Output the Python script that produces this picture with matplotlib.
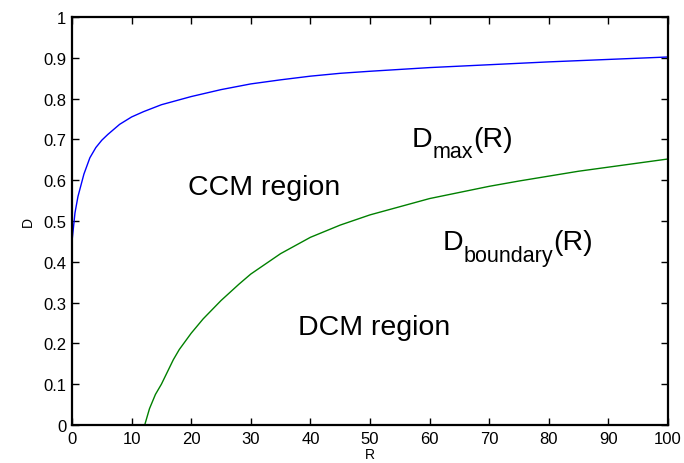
import numpy as np
import matplotlib
matplotlib.use('Agg')
import matplotlib.pyplot as plt

# %% Data

# D_max(R), upper (blue) curve
r_max = [0, 0.5, 1, 2, 3, 4, 5, 6, 8, 10, 12, 15, 18, 20, 25, 30, 35, 40,
         45, 50, 60, 70, 80, 90, 100]
d_max = [0.45, 0.52, 0.56, 0.615, 0.655, 0.68, 0.698, 0.712, 0.737, 0.755,
         0.768, 0.785, 0.797, 0.805, 0.822, 0.836, 0.846, 0.855, 0.862, 0.867,
         0.876, 0.883, 0.890, 0.896, 0.902]

# D_boundary(R), lower (green) curve
r_bnd = [12.2, 13, 14, 15, 16, 17, 18, 20, 22, 25, 28, 30, 35, 40, 45, 50,
         55, 60, 65, 70, 75, 80, 85, 90, 95, 100]
d_bnd = [0, 0.04, 0.075, 0.10, 0.13, 0.16, 0.185, 0.225, 0.26, 0.305, 0.345,
         0.37, 0.42, 0.46, 0.49, 0.515, 0.535, 0.555, 0.57, 0.585, 0.598, 0.61,
         0.622, 0.632, 0.642, 0.652]

x_ticks = np.arange(0, 101, 10)
y_ticks = np.arange(0, 1.01, 0.1)


# %% Helpers

def sub_label(ax, x, y, base, sub, rest, size=20.5, sub_size=15.5, drop=0.028):
    """Writes base_sub rest the MATLAB way: big subscript, dropped low"""
    t1 = ax.text(x, y, base, fontsize=size, va='baseline')
    t2 = ax.annotate(sub, xy=(1, y - drop), xycoords=(t1, 'data'),
                     fontsize=sub_size, va='baseline', annotation_clip=False)
    ax.annotate(rest, xy=(1, y), xycoords=(t2, 'data'),
                fontsize=size, va='baseline', annotation_clip=False)


# %% Plot

plt.rcParams['font.family'] = 'Liberation Sans'

fig = plt.figure(figsize=(6.84, 4.64), dpi=100)
ax = fig.add_axes([72 / 684, 1 - 426 / 464, 596 / 684, 408 / 464])

ax.plot(r_max, d_max, color='#0000ff', lw=1.0)
ax.plot(r_bnd, d_bnd, color='#008000', lw=1.0)

ax.set_xlim(0, 100)
ax.set_ylim(0, 1)
ax.set_xticks(x_ticks)
ax.set_yticks(y_ticks)
ax.set_xticklabels([str(v) for v in x_ticks])
ax.set_yticklabels(['0'] + ['%.1f' % v for v in y_ticks[1:-1]] + ['1'])
ax.tick_params(direction='in', length=5, width=1, top=True, right=True,
               labelsize=12, pad=4)
for s in ax.spines.values():
    s.set_linewidth(1.6)

ax.set_xlabel('R', fontsize=10, labelpad=1)
ax.set_ylabel('D', fontsize=10, labelpad=6)

ax.text(19.5, 0.566, 'CCM region', fontsize=20.5, va='baseline')
ax.text(38.0, 0.223, 'DCM region', fontsize=20.5, va='baseline')
sub_label(ax, 57.0, 0.684, 'D', 'max', '(R)')
sub_label(ax, 62.2, 0.431, 'D', 'boundary', '(R)')

plt.savefig('out.png', dpi=100)
